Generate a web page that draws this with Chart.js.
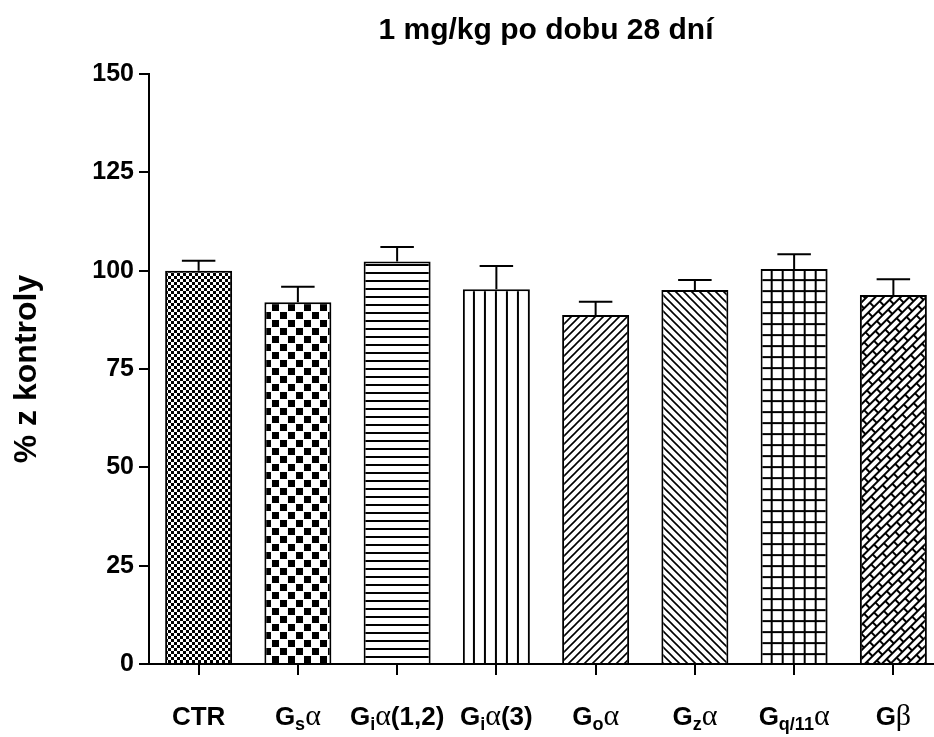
<!DOCTYPE html>
<html>
<head>
<meta charset="utf-8">
<script src="https://cdn.jsdelivr.net/npm/chart.js@4/dist/chart.umd.min.js"></script>
<style>
  html, body { margin: 0; padding: 0; background: #fff; overflow: hidden; }
</style>
</head>
<body>
<canvas id="chart" width="944" height="737"></canvas>
<script>
const categories = ["CTR", "Gsα", "Giα(1,2)", "Giα(3)", "Goα", "Gzα", "Gq/11α", "Gβ"];
// label pieces: b = bold text, sub = subscript, g = greek letter
const labelParts = [
  [["CTR", "b"]],
  [["G", "b"], ["s", "sub"], ["α", "g"]],
  [["G", "b"], ["i", "sub"], ["α", "g"], ["(1,2)", "b"]],
  [["G", "b"], ["i", "sub"], ["α", "g"], ["(3)", "b"]],
  [["G", "b"], ["o", "sub"], ["α", "g"]],
  [["G", "b"], ["z", "sub"], ["α", "g"]],
  [["G", "b"], ["q/11", "sub"], ["α", "g"]],
  [["G", "b"], ["β", "g"]],
];
const values = [100, 92.0, 102.3, 95.3, 88.7, 95.1, 100.4, 93.8];
const sem = [2.5, 3.9, 3.7, 5.9, 3.4, 2.5, 3.8, 4.0];
const yTicks = [0, 25, 50, 75, 100, 125, 150];

const FONT = "'Liberation Sans', Arial, sans-serif";
const SERIF = "'Liberation Serif', 'Times New Roman', serif";

const makeTile = (w, h, draw) => {
  const c = document.createElement("canvas");
  c.width = w;
  c.height = h;
  const g = c.getContext("2d");
  g.fillStyle = "#fff";
  g.fillRect(0, 0, w, h);
  g.fillStyle = "#000";
  g.strokeStyle = "#000";
  draw(g, w, h);
  return c;
};

const ctx = document.getElementById("chart").getContext("2d");

const buildPatterns = () => {
  const list = [];
  // fine checker
  list.push(ctx.createPattern(makeTile(6, 6, (g) => {
    g.fillRect(0, 0, 3, 3);
    g.fillRect(3, 3, 3, 3);
  }), "repeat"));
  // big checker
  list.push(ctx.createPattern(makeTile(16, 16, (g) => {
    g.fillRect(0, 0, 7, 7);
    g.fillRect(8, 8, 7, 7);
  }), "repeat"));
  // horizontal lines
  list.push(ctx.createPattern(makeTile(8, 8, (g) => {
    g.fillRect(0, 0, 8, 2);
  }), "repeat"));
  // vertical lines
  list.push(ctx.createPattern(makeTile(11, 11, (g) => {
    g.fillRect(0, 0, 2, 11);
  }), "repeat"));
  // "/" diagonals
  list.push(ctx.createPattern(makeTile(8, 8, (g) => {
    g.lineWidth = 1.6;
    g.beginPath();
    g.moveTo(-2, 10); g.lineTo(10, -2);
    g.moveTo(-2, 2); g.lineTo(2, -2);
    g.moveTo(6, 10); g.lineTo(10, 6);
    g.stroke();
  }), "repeat"));
  // "\" diagonals
  list.push(ctx.createPattern(makeTile(8, 8, (g) => {
    g.lineWidth = 1.6;
    g.beginPath();
    g.moveTo(-2, -2); g.lineTo(10, 10);
    g.moveTo(-2, 6); g.lineTo(2, 10);
    g.moveTo(6, -2); g.lineTo(10, 2);
    g.stroke();
  }), "repeat"));
  // grid
  list.push(ctx.createPattern(makeTile(11, 11, (g) => {
    g.fillRect(0, 0, 2, 11);
    g.fillRect(0, 0, 11, 2);
  }), "repeat"));
  // rotated bricks
  const brick = ctx.createPattern(makeTile(16, 12, (g) => {
    g.fillRect(0, 0, 16, 2);
    g.fillRect(0, 6, 16, 2);
    g.fillRect(0, 0, 2, 6);
    g.fillRect(8, 6, 2, 6);
  }), "repeat");
  brick.setTransform(new DOMMatrix().rotate(-45));
  list.push(brick);
  return list;
};

const patterns = buildPatterns();

// line up the vertical-line and grid fills with their bar edges
const alignFills = {
  id: "alignFills",
  beforeDatasetsDraw(chart) {
    const meta = chart.getDatasetMeta(0);
    [3, 6].forEach((i) => {
      const bar = meta.data[i];
      const left = bar.x - bar.width / 2 - 1;
      patterns[i].setTransform(new DOMMatrix().translate(left, bar.y - 1));
    });
  },
};

const errorBars = {
  id: "errorBars",
  afterDatasetsDraw(chart) {
    const meta = chart.getDatasetMeta(0);
    const y = chart.scales.y;
    const c = chart.ctx;
    c.save();
    c.strokeStyle = "#000";
    c.lineWidth = 2;
    meta.data.forEach((bar, i) => {
      const top = y.getPixelForValue(values[i] + sem[i]);
      const half = bar.width / 4;
      c.beginPath();
      c.moveTo(bar.x, bar.y);
      c.lineTo(bar.x, top);
      c.moveTo(bar.x - half, top);
      c.lineTo(bar.x + half, top);
      c.stroke();
    });
    c.restore();
  },
};

const xLabels = {
  id: "xLabels",
  afterDraw(chart) {
    const x = chart.scales.x;
    const c = chart.ctx;
    const baseline = 725;
    const fontOf = (kind) => {
      if (kind === "sub") return "bold 18px " + FONT;
      if (kind === "g") return "30px " + SERIF;
      return "bold 26px " + FONT;
    };
    c.save();
    c.fillStyle = "#000";
    c.textBaseline = "alphabetic";
    c.textAlign = "left";
    labelParts.forEach((parts, i) => {
      let total = 0;
      parts.forEach(([t, kind]) => {
        c.font = fontOf(kind);
        total += c.measureText(t).width;
      });
      let px = x.getPixelForValue(i) - total / 2;
      parts.forEach(([t, kind]) => {
        c.font = fontOf(kind);
        c.fillText(t, px, kind === "sub" ? baseline + 5 : baseline);
        px += c.measureText(t).width;
      });
    });
    c.restore();
  },
};

new Chart(ctx, {
  type: "bar",
  data: {
    labels: categories,
    datasets: [
      {
        data: values,
        backgroundColor: patterns,
        borderColor: "#000",
        borderWidth: 2,
        categoryPercentage: 1,
        barPercentage: 0.675,
      },
    ],
  },
  options: {
    responsive: false,
    animation: false,
    devicePixelRatio: 1,
    layout: {
      padding: { left: 0, right: 1, top: 0, bottom: 0 },
    },
    plugins: {
      legend: { display: false },
      tooltip: { enabled: false },
      title: {
        display: true,
        text: "1 mg/kg po dobu 28 dní",
        fullSize: false,
        color: "#000",
        font: { family: FONT, size: 30, weight: "bold" },
        padding: { top: 12.5, bottom: 25.5 },
      },
    },
    scales: {
      x: {
        afterFit: (scale) => {
          scale.height = 73;
        },
        grid: {
          offset: false,
          drawOnChartArea: false,
          drawTicks: true,
          tickLength: 11,
          color: "#000",
          lineWidth: 2,
        },
        border: { display: true, color: "#000", width: 2 },
        ticks: { display: false },
      },
      y: {
        min: 0,
        max: 150,
        afterFit: (scale) => {
          scale.width = 149;
        },
        afterBuildTicks: (scale) => {
          scale.ticks = yTicks.map((v) => ({ value: v }));
        },
        grid: {
          drawOnChartArea: false,
          drawTicks: true,
          tickLength: 10,
          color: "#000",
          lineWidth: 2,
        },
        border: { display: true, color: "#000", width: 2 },
        ticks: {
          color: "#000",
          padding: 5,
          font: { family: FONT, size: 25, weight: "bold" },
        },
        title: {
          display: true,
          text: "% z kontroly",
          color: "#000",
          font: { family: FONT, size: 32, weight: "bold" },
          padding: { top: 8, bottom: 0 },
        },
      },
    },
  },
  plugins: [alignFills, errorBars, xLabels],
});
</script>
</body>
</html>
